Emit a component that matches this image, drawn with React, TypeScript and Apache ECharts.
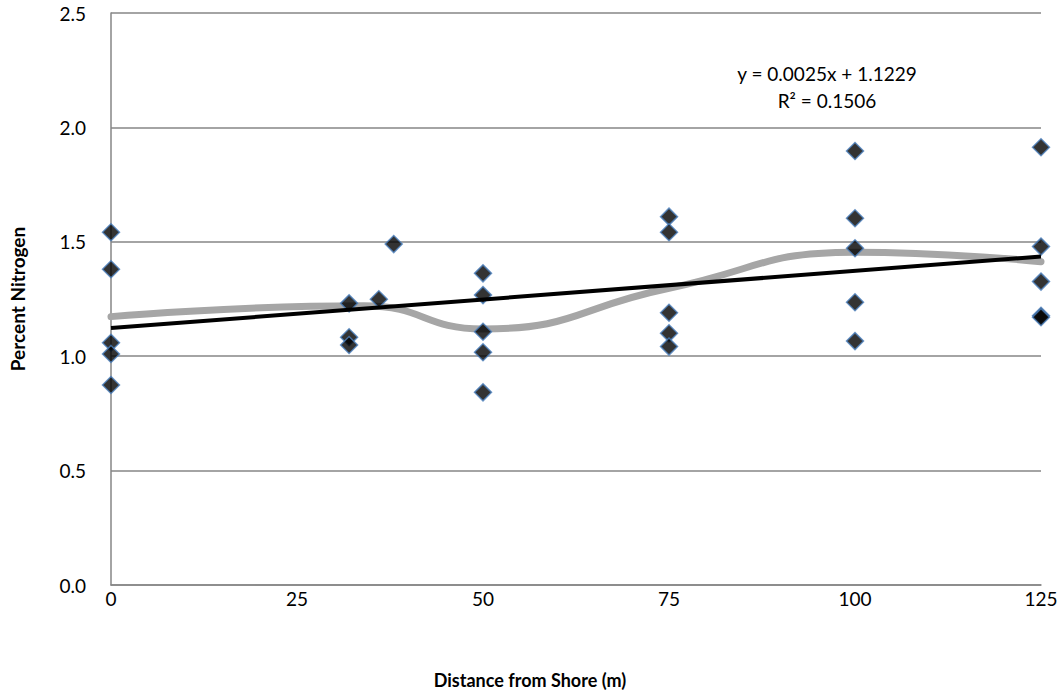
import React, { useEffect, useRef } from "react";
import * as echarts from "echarts";

// Individual samples (distance from shore in m, percent nitrogen)
const distance = [
  0, 0, 0, 0, 0,
  32, 32, 32, 36, 38,
  50, 50, 50, 50, 50,
  75, 75, 75, 75, 75,
  100, 100, 100, 100, 100,
  125, 125, 125, 125, 125,
];
const nitrogen = [
  1.542, 1.38, 1.059, 1.01, 0.874,
  1.231, 1.083, 1.049, 1.249, 1.49,
  1.362, 1.267, 1.107, 1.017, 0.842,
  1.61, 1.542, 1.19, 1.1, 1.042,
  1.897, 1.603, 1.472, 1.236, 1.066,
  1.913, 1.479, 1.326, 1.177, 1.17,
];
// Sampling stations used for the smoothed mean curve
const stations = [0, 34, 50, 75, 100, 125];

// Linear trendline as displayed
const slope = 0.0025;
const intercept = 1.1229;
const trendX = [0, 125];
const equationText = "y = 0.0025x + 1.1229";
const r2Text = "R² = 0.1506";

const xTicks = [0, 25, 50, 75, 100, 125];
const yTicks = [0, 0.5, 1.0, 1.5, 2.0, 2.5];

const FONT = "Lato, 'Open Sans', sans-serif";

export default function App() {
  const ref = useRef<HTMLDivElement>(null);

  useEffect(() => {
    document.body.style.margin = "0";
    if (!ref.current) return;
    const chart = echarts.init(ref.current, undefined, { renderer: "svg" });

    const points = distance.map((d, i) => [d, nitrogen[i]]);
    const means = stations.map((s) => {
      const vals: number[] = [];
      distance.forEach((d, i) => {
        let best = stations[0];
        stations.forEach((t) => {
          if (Math.abs(t - d) < Math.abs(best - d)) best = t;
        });
        if (best === s) vals.push(nitrogen[i]);
      });
      return [s, vals.reduce((a, b) => a + b, 0) / vals.length];
    });
    const trend = trendX.map((x) => [x, intercept + slope * x]);

    chart.setOption({
      animation: false,
      backgroundColor: "#ffffff",
      grid: { left: 111, right: 20, top: 13, bottom: 109 },
      xAxis: {
        type: "value",
        min: xTicks[0],
        max: xTicks[xTicks.length - 1],
        interval: 25,
        axisLine: { show: true, lineStyle: { color: "#868686", width: 1.5 } },
        axisTick: { show: false },
        splitLine: { show: false },
        axisLabel: {
          color: "#000",
          fontFamily: FONT,
          fontSize: 19,
          margin: 4,
        },
      },
      yAxis: {
        type: "value",
        min: yTicks[0],
        max: yTicks[yTicks.length - 1],
        interval: 0.5,
        axisLine: { show: true, lineStyle: { color: "#868686", width: 1.5 } },
        axisTick: { show: false },
        splitLine: { show: true, lineStyle: { color: "#868686", width: 1.5 } },
        axisLabel: {
          color: "#000",
          fontFamily: FONT,
          fontSize: 19,
          margin: 25,
          formatter: (v: number) => v.toFixed(1),
        },
      },
      graphic: [
        {
          type: "text",
          x: 530,
          y: 680,
          style: {
            text: "Distance from Shore (m)",
            fontFamily: FONT,
            fontWeight: "bold",
            fontSize: 18,
            fill: "#000",
            textAlign: "center",
            textVerticalAlign: "middle",
          },
        },
        {
          type: "text",
          x: 17,
          y: 299,
          rotation: Math.PI / 2,
          style: {
            text: "Percent Nitrogen",
            fontFamily: FONT,
            fontWeight: "bold",
            fontSize: 19,
            fill: "#000",
            textAlign: "center",
            textVerticalAlign: "middle",
          },
        },
        {
          type: "text",
          x: 827,
          y: 73,
          style: {
            text: equationText,
            fontFamily: FONT,
            fontSize: 19,
            fill: "#000",
            textAlign: "center",
            textVerticalAlign: "middle",
          },
        },
        {
          type: "text",
          x: 827,
          y: 100,
          style: {
            text: r2Text,
            fontFamily: FONT,
            fontSize: 19,
            fill: "#000",
            textAlign: "center",
            textVerticalAlign: "middle",
          },
        },
      ],
      series: [
        {
          type: "line",
          data: means,
          smooth: 0.5,
          showSymbol: false,
          symbol: "none",
          z: 1,
          lineStyle: { color: "#a6a6a6", width: 7, cap: "round" },
        },
        {
          type: "scatter",
          data: points,
          symbol: "diamond",
          symbolSize: 17,
          z: 2,
          itemStyle: { color: "#000", borderColor: "#4a7ebb", borderWidth: 1.5 },
        },
        {
          type: "line",
          data: trend,
          showSymbol: false,
          symbol: "none",
          z: 3,
          lineStyle: { color: "#000", width: 4 },
        },
      ],
    });

    return () => chart.dispose();
  }, []);

  return <div ref={ref} style={{ width: 1061, height: 694 }} />;
}
